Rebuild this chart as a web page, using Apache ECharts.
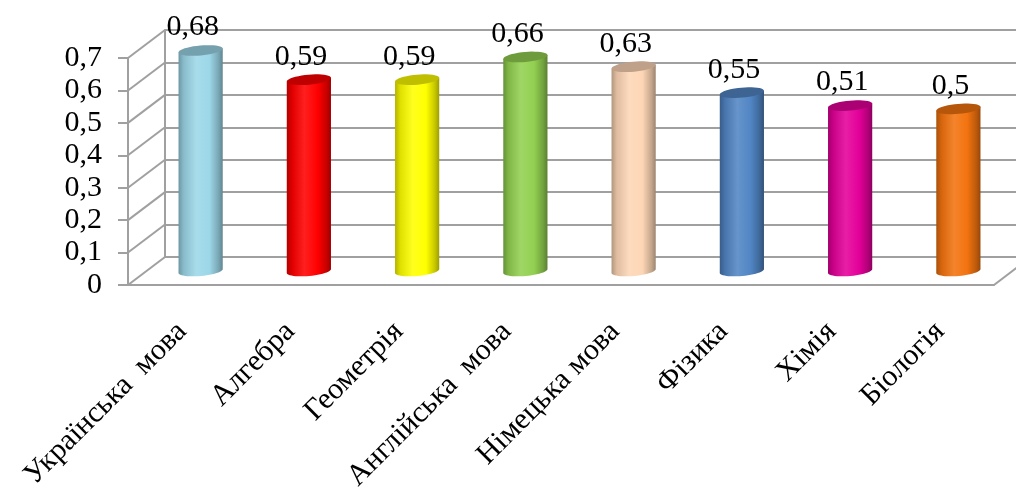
<!DOCTYPE html>
<html>
<head>
<meta charset="utf-8">
<script src="https://cdn.jsdelivr.net/npm/echarts@6/dist/echarts.min.js"></script>
<style>html,body{margin:0;padding:0;background:#fff}#c{width:1016px;height:497px}</style>
</head>
<body>
<div id="c"></div>
<script>
// ---- data ----
const categories = ['Українська  мова', 'Алгебра', 'Геометрія', 'Англійська  мова', 'Німецька мова', 'Фізика', 'Хімія', 'Біологія'];
const values = [0.68, 0.59, 0.59, 0.66, 0.63, 0.55, 0.51, 0.5];
const barColors = ['#9cd7e8', '#ff0000', '#ffff00', '#92d050', '#fdd6b5', '#5185c4', '#e4009a', '#f3730f'];
const yTicks = [0, 0.1, 0.2, 0.3, 0.4, 0.5, 0.6, 0.7];

// ---- layout / style ----
const DX = 37, DY = -28;             // depth offset of back wall
const GRID_W = 866, GRID_H = 227;
const LINE = '#a0a0a0';
const SERIF = '"Liberation Serif", "DejaVu Serif", serif';

function shade(hex, f) {
  const n = parseInt(hex.slice(1), 16);
  let r = (n >> 16) & 255, g = (n >> 8) & 255, b = n & 255;
  const m = c => Math.max(0, Math.min(255, Math.round(f < 0 ? c * (1 + f) : c + (255 - c) * f)));
  return 'rgb(' + m(r) + ',' + m(g) + ',' + m(b) + ')';
}
function fmt(v) { return v === 0 ? '0' : v.toFixed(2).replace(/0$/, '').replace('.', ','); }
function fmtTick(v) { return v === 0 ? '0' : v.toFixed(1).replace('.', ','); }

function ellPt(cx, cy, a, b, th, p) {
  return [
    cx + a * Math.cos(p) * Math.cos(th) - b * Math.sin(p) * Math.sin(th),
    cy + a * Math.cos(p) * Math.sin(th) + b * Math.sin(p) * Math.cos(th)
  ];
}
function ellipsePts(cx, cy, a, b, th, from, to, n) {
  const pts = [];
  for (let k = 0; k <= n; k++) pts.push(ellPt(cx, cy, a, b, th, from + (to - from) * k / n));
  return pts;
}

const chart = echarts.init(document.getElementById('c'), null, { renderer: 'canvas' });

const option = {
  animation: false,
  backgroundColor: '#fff',
  grid: [
    { left: 128 + DX, top: 58 + DY, width: GRID_W, height: GRID_H },  // back wall
    { left: 128, top: 58, width: GRID_W, height: GRID_H },            // front edge
    { left: 128 + DX / 2, top: 58 + DY / 2, width: GRID_W, height: GRID_H } // bar plane
  ],
  xAxis: [
    { gridIndex: 0, type: 'category', data: categories, show: false },
    {
      gridIndex: 1, type: 'category', data: categories,
      axisLine: { lineStyle: { color: LINE, width: 2 } },
      axisTick: { length: 10, lineStyle: { color: LINE, width: 2 } },
      axisLabel: { rotate: 45, margin: 42, color: '#000', fontSize: 30, fontFamily: SERIF, interval: 0 }
    },
    { gridIndex: 2, type: 'category', data: categories, show: false }
  ],
  yAxis: [
    {
      gridIndex: 0, type: 'value', min: 0, max: 0.7, interval: 0.1,
      axisLine: { show: true, lineStyle: { color: LINE, width: 2 } },
      axisTick: { show: false }, axisLabel: { show: false },
      splitLine: { show: true, lineStyle: { color: LINE, width: 2 } }
    },
    {
      gridIndex: 1, type: 'value', min: 0, max: 0.7, interval: 0.1,
      axisLine: { show: true, lineStyle: { color: LINE, width: 2 } },
      axisTick: { show: true, length: 10, lineStyle: { color: LINE, width: 2 } },
      axisLabel: { margin: 26, color: '#000', fontSize: 30, fontFamily: SERIF, formatter: fmtTick },
      splitLine: { show: false }
    },
    { gridIndex: 2, type: 'value', min: 0, max: 0.7, interval: 0.1, show: false, splitLine: { show: false } }
  ],
  series: [
    {
      // depth lines from front ticks to back wall
      type: 'custom', xAxisIndex: 1, yAxisIndex: 1, silent: true, z: 1,
      data: yTicks.map(v => [0, v]),
      renderItem: function (params, api) {
        const p = api.coord([0, api.value(1)]);
        const half = api.size([1, 0])[0] / 2;
        const x0 = p[0] - half;
        const children = [{
          type: 'line',
          shape: { x1: x0, y1: p[1], x2: x0 + DX, y2: p[1] + DY },
          style: { stroke: LINE, lineWidth: 2 }
        }];
        if (api.value(1) === 0) {
          const xr = api.coord([categories.length - 1, 0])[0] + half;
          children.push({
            type: 'line',
            shape: { x1: xr, y1: p[1], x2: xr + DX, y2: p[1] + DY },
            style: { stroke: LINE, lineWidth: 2 }
          });
        }
        return { type: 'group', children: children };
      }
    },
    {
      // cylinders
      type: 'custom', xAxisIndex: 2, yAxisIndex: 2, z: 3,
      data: values.map((v, i) => [i, v]),
      renderItem: function (params, api) {
        const i = api.value(0), v = api.value(1);
        const top = api.coord([i, v]);
        const bot = api.coord([i, 0]);
        const w = api.size([1, 0])[0] * 0.41;
        const a = w / 2, b = 5, th = -0.09;
        const c = barColors[i];
        const cx = top[0];
        const bottomArc = ellipsePts(cx, bot[1], a, b, th, Math.PI, 0, 24);
        const topL = ellPt(cx, top[1], a, b, th, Math.PI);
        const topR = ellPt(cx, top[1], a, b, th, 0);
        const body = [topL].concat(bottomArc).concat([topR]);
        const topEll = ellipsePts(cx, top[1], a, b, th, 0, Math.PI * 2, 40);
        const grad = new echarts.graphic.LinearGradient(0, 0, 1, 0, [
          { offset: 0, color: shade(c, -0.3) },
          { offset: 0.12, color: shade(c, -0.12) },
          { offset: 0.4, color: shade(c, 0.12) },
          { offset: 0.7, color: c },
          { offset: 0.9, color: shade(c, -0.22) },
          { offset: 1, color: shade(c, -0.38) }
        ]);
        return {
          type: 'group',
          children: [
            { type: 'polygon', shape: { points: body }, style: { fill: grad } },
            { type: 'polygon', shape: { points: topEll }, style: { fill: shade(c, -0.25) } },
            {
              type: 'text', z2: 10,
              style: {
                text: fmt(v), x: cx - 8, y: top[1] - b - 3,
                textAlign: 'center', textVerticalAlign: 'bottom',
                fontSize: 30, fontFamily: SERIF, fill: '#000'
              }
            }
          ]
        };
      }
    }
  ]
};
chart.setOption(option);
</script>
</body>
</html>
